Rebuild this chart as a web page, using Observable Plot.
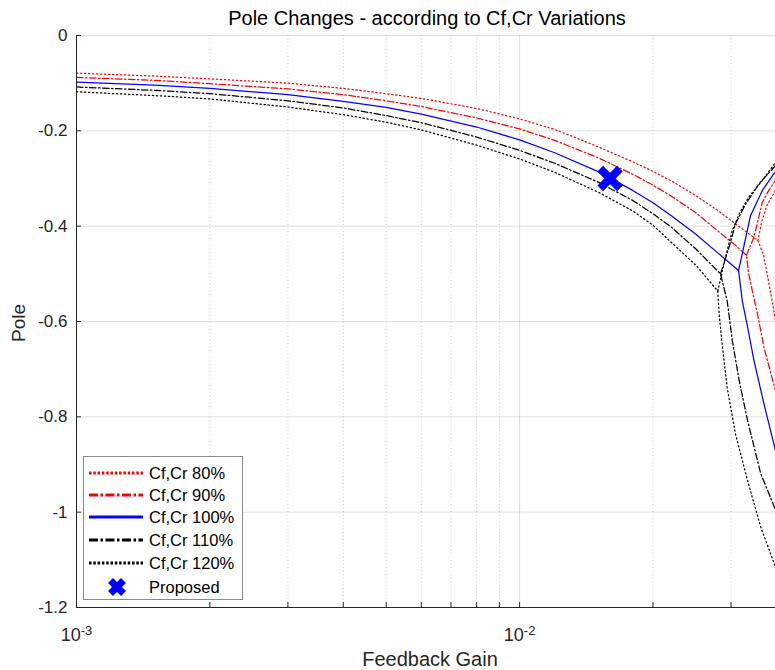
<!DOCTYPE html>
<html><head><meta charset="utf-8">
<script src="https://cdn.jsdelivr.net/npm/d3@7"></script>
<script src="https://cdn.jsdelivr.net/npm/@observablehq/plot@0.6"></script>
<style>
body{margin:0;background:#fff;}
#wrap{position:relative;width:775px;height:670px;overflow:hidden;font-family:"Liberation Sans",Arial,sans-serif;}
#legend{position:absolute;left:83px;top:456px;}
</style></head>
<body><div id="wrap"></div>
<script>
// ---------- data ----------
const seriesNames = ["Cf,Cr 80%", "Cf,Cr 90%", "Cf,Cr 100%", "Cf,Cr 110%", "Cf,Cr 120%"];
const gainMain = [0.001, 0.0015, 0.002, 0.003, 0.004, 0.005, 0.006, 0.008, 0.01, 0.012, 0.015, 0.018, 0.02, 0.022, 0.025];

const pole80Main  = [-0.079, -0.085, -0.091, -0.100, -0.111, -0.122, -0.132, -0.153, -0.175, -0.197, -0.233, -0.265, -0.285, -0.305, -0.336];
const pole90Main  = [-0.088, -0.094, -0.101, -0.112, -0.124, -0.137, -0.149, -0.173, -0.196, -0.220, -0.256, -0.291, -0.314, -0.337, -0.372];
const pole100Main = [-0.098, -0.104, -0.111, -0.124, -0.138, -0.151, -0.165, -0.192, -0.219, -0.246, -0.285, -0.325, -0.351, -0.378, -0.417];
const pole110Main = [-0.108, -0.115, -0.122, -0.137, -0.152, -0.168, -0.183, -0.213, -0.241, -0.268, -0.307, -0.346, -0.374, -0.402, -0.448];
const pole120Main = [-0.118, -0.126, -0.133, -0.150, -0.166, -0.182, -0.198, -0.230, -0.259, -0.287, -0.328, -0.368, -0.398, -0.434, -0.482];

// continuation of each main branch past the split (lower branch)
const gain80Low  = [0.028, 0.031, 0.0345, 0.0355, 0.0362, 0.0372, 0.0378];
const pole80Low  = [-0.367, -0.398, -0.430, -0.460, -0.500, -0.560, -0.598];
const gain90Low  = [0.028, 0.0305, 0.0325, 0.0329, 0.0335, 0.0344, 0.0356, 0.0369, 0.0378];
const pole90Low  = [-0.410, -0.438, -0.461, -0.500, -0.535, -0.583, -0.654, -0.709, -0.745];
const gain100Low = [0.028, 0.0312, 0.0318, 0.0327, 0.0338, 0.0356, 0.0378];
const pole100Low = [-0.456, -0.493, -0.556, -0.612, -0.682, -0.773, -0.871];
const gain110Low = [0.0284, 0.0294, 0.0302, 0.0313, 0.0327, 0.035, 0.0378];
const pole110Low = [-0.500, -0.556, -0.640, -0.724, -0.808, -0.919, -0.995];
const gain120Low = [0.028, 0.0282, 0.0287, 0.0294, 0.0307, 0.0327, 0.035, 0.0378];
const pole120Low = [-0.536, -0.584, -0.654, -0.738, -0.836, -0.934, -1.031, -1.115];

// upper branch starting at the split point
const gain80Up  = [0.0345, 0.0352, 0.0362, 0.0378];
const pole80Up  = [-0.430, -0.390, -0.355, -0.325];
const gain90Up  = [0.0325, 0.0338, 0.0353, 0.0365, 0.0378];
const pole90Up  = [-0.461, -0.423, -0.350, -0.325, -0.304];
const gain100Up = [0.0312, 0.0318, 0.0324, 0.0332, 0.0353, 0.0378];
const pole100Up = [-0.493, -0.458, -0.423, -0.378, -0.325, -0.285];
const gain110Up = [0.0284, 0.0297, 0.0307, 0.0324, 0.0347, 0.0378];
const pole110Up = [-0.500, -0.444, -0.395, -0.353, -0.311, -0.273];
const gain120Up = [0.028, 0.0294, 0.0302, 0.0313, 0.0329, 0.0353, 0.0378];
const pole120Up = [-0.536, -0.451, -0.409, -0.374, -0.339, -0.304, -0.266];

const proposedGain = [0.016];
const proposedPole = [-0.3];

const xMajorTicks = [0.001, 0.01];
const xMinorTicks = [0.002, 0.003, 0.004, 0.005, 0.006, 0.007, 0.008, 0.009, 0.02, 0.03];
const xTickExponents = ["-3", "-2"];
const yTicks = [0, -0.2, -0.4, -0.6, -0.8, -1, -1.2];

// ---------- build tables ----------
const mainP = [pole80Main, pole90Main, pole100Main, pole110Main, pole120Main];
const lowG = [gain80Low, gain90Low, gain100Low, gain110Low, gain120Low];
const lowP = [pole80Low, pole90Low, pole100Low, pole110Low, pole120Low];
const upG = [gain80Up, gain90Up, gain100Up, gain110Up, gain120Up];
const upP = [pole80Up, pole90Up, pole100Up, pole110Up, pole120Up];

const styles = [
  {color:"#ff0000", dash:"1.3,2.7", ldash:"2.5,1.8"},
  {color:"#ff0000", dash:"6.5,2.5,1.5,2.5", ldash:"9,2.5,2.5,2.5"},
  {color:"#0000ff", dash:null, ldash:null},
  {color:"#000000", dash:"6.5,2.5,1.5,2.5", ldash:"9,2.5,2.5,2.5"},
  {color:"#000000", dash:"1.3,2.7", ldash:"2.5,1.8"}
];

const lineMarks = [];
seriesNames.forEach((name, s) => {
  const rows = [];
  gainMain.forEach((k, i) => rows.push({name, part:"a", k, pole: mainP[s][i]}));
  lowG[s].forEach((k, i) => rows.push({name, part:"a", k, pole: lowP[s][i]}));
  upG[s].forEach((k, i) => rows.push({name, part:"b", k, pole: upP[s][i]}));
  lineMarks.push(Plot.line(rows, {
    x:"k", y:"pole", z:"part", stroke: styles[s].color, strokeWidth:1.25,
    strokeDasharray: styles[s].dash || undefined, clip:true, curve:"linear"
  }));
});
const proposed = proposedGain.map((k, i) => ({k, pole: proposedPole[i]}));

const axisColor = "#262626";
const FONT = "'Liberation Sans', Arial, sans-serif";
const chart = Plot.plot({
  width:775, height:670,
  marginTop:35, marginBottom:63, marginLeft:76, marginRight:0,
  x:{type:"log", domain:[0.001, 0.0378]},
  y:{domain:[-1.2, 0]},
  style:{fontFamily:FONT, fontSize:"16px", color:axisColor, background:"#fff", overflow:"visible"},
  marks:[
    Plot.gridX({ticks:xMinorTicks, stroke:"#000", strokeOpacity:0.22, strokeDasharray:"1,2.5"}),
    Plot.gridX({ticks:xMajorTicks, stroke:"#000", strokeOpacity:0.13}),
    Plot.gridY({ticks:yTicks, stroke:"#000", strokeOpacity:0.13}),
    ...lineMarks,
    Plot.dot(proposed, {x:"k", y:"pole", symbol:"times", r:9, stroke:"#0000ff", strokeWidth:8}),
    Plot.ruleX([xMajorTicks[0]], {stroke:axisColor, strokeWidth:1}),
    Plot.ruleY([yTicks[yTicks.length-1]], {stroke:axisColor, strokeWidth:1}),
    Plot.axisX({ticks:xMajorTicks.concat(xMinorTicks), tickSize:-5, tickFormat:() => "", stroke:axisColor, label:null}),
    Plot.axisX({ticks:xMajorTicks, tickSize:0, tickPadding:21, tickFormat:d => "10^" + xTickExponents[xMajorTicks.indexOf(d)], fontSize:18, fill:axisColor, label:null}),
    Plot.axisY({ticks:yTicks, tickSize:-5, tickFormat:() => "", stroke:axisColor, label:null}),
    Plot.axisY({ticks:yTicks, tickSize:0, tickPadding:9, tickFormat:d => String(d), fontSize:17, fill:axisColor, label:null})
  ]
});
const wrap = document.getElementById("wrap");
wrap.appendChild(chart);

const svg = d3.select(chart);
// superscript exponents on log tick labels
svg.selectAll("text").filter(function() { return this.textContent.startsWith("10^"); }).each(function() {
  const exp = this.textContent.slice(3);
  const t = d3.select(this);
  t.text("");
  t.append("tspan").text("10");
  t.append("tspan").attr("dy", "-0.5em").attr("font-size", "0.72em").text(exp);
});
// title and axis labels
svg.append("text").attr("x", 427).attr("y", 25).attr("text-anchor", "middle")
  .attr("font-size", 20).attr("fill", "#000").text("Pole Changes - according to Cf,Cr Variations");
svg.append("text").attr("x", 430).attr("y", 666).attr("text-anchor", "middle")
  .attr("font-size", 20).attr("fill", axisColor).text("Feedback Gain");
svg.append("text").attr("transform", "translate(25,323) rotate(-90)").attr("text-anchor", "middle")
  .attr("font-size", 19).attr("fill", axisColor).text("Pole");

// legend
const lg = d3.select(wrap).append("svg").attr("id", "legend").attr("width", 161).attr("height", 145);
lg.append("rect").attr("x", 0.5).attr("y", 0.5).attr("width", 159).attr("height", 143)
  .attr("fill", "#fff").attr("stroke", "#8a8a8a");
const rowY = [17, 39, 61, 84, 107, 131];
seriesNames.forEach((name, s) => {
  lg.append("line").attr("x1", 6).attr("x2", 60).attr("y1", rowY[s]).attr("y2", rowY[s])
    .attr("stroke", styles[s].color).attr("stroke-width", 2.8)
    .attr("stroke-dasharray", styles[s].ldash);
  lg.append("text").attr("x", 66).attr("y", rowY[s]).attr("dy", "0.35em")
    .attr("font-size", 16.5).attr("fill", "#000").attr("font-family", FONT).text(name);
});
lg.append("path").attr("d", "M-6.5,-6.5L6.5,6.5M-6.5,6.5L6.5,-6.5").attr("transform", `translate(34,${rowY[5]})`)
  .attr("stroke", "#0000ff").attr("stroke-width", 7);
lg.append("text").attr("x", 66).attr("y", rowY[5]).attr("dy", "0.35em")
  .attr("font-size", 16.5).attr("fill", "#000").attr("font-family", FONT).text("Proposed");
</script></body></html>
